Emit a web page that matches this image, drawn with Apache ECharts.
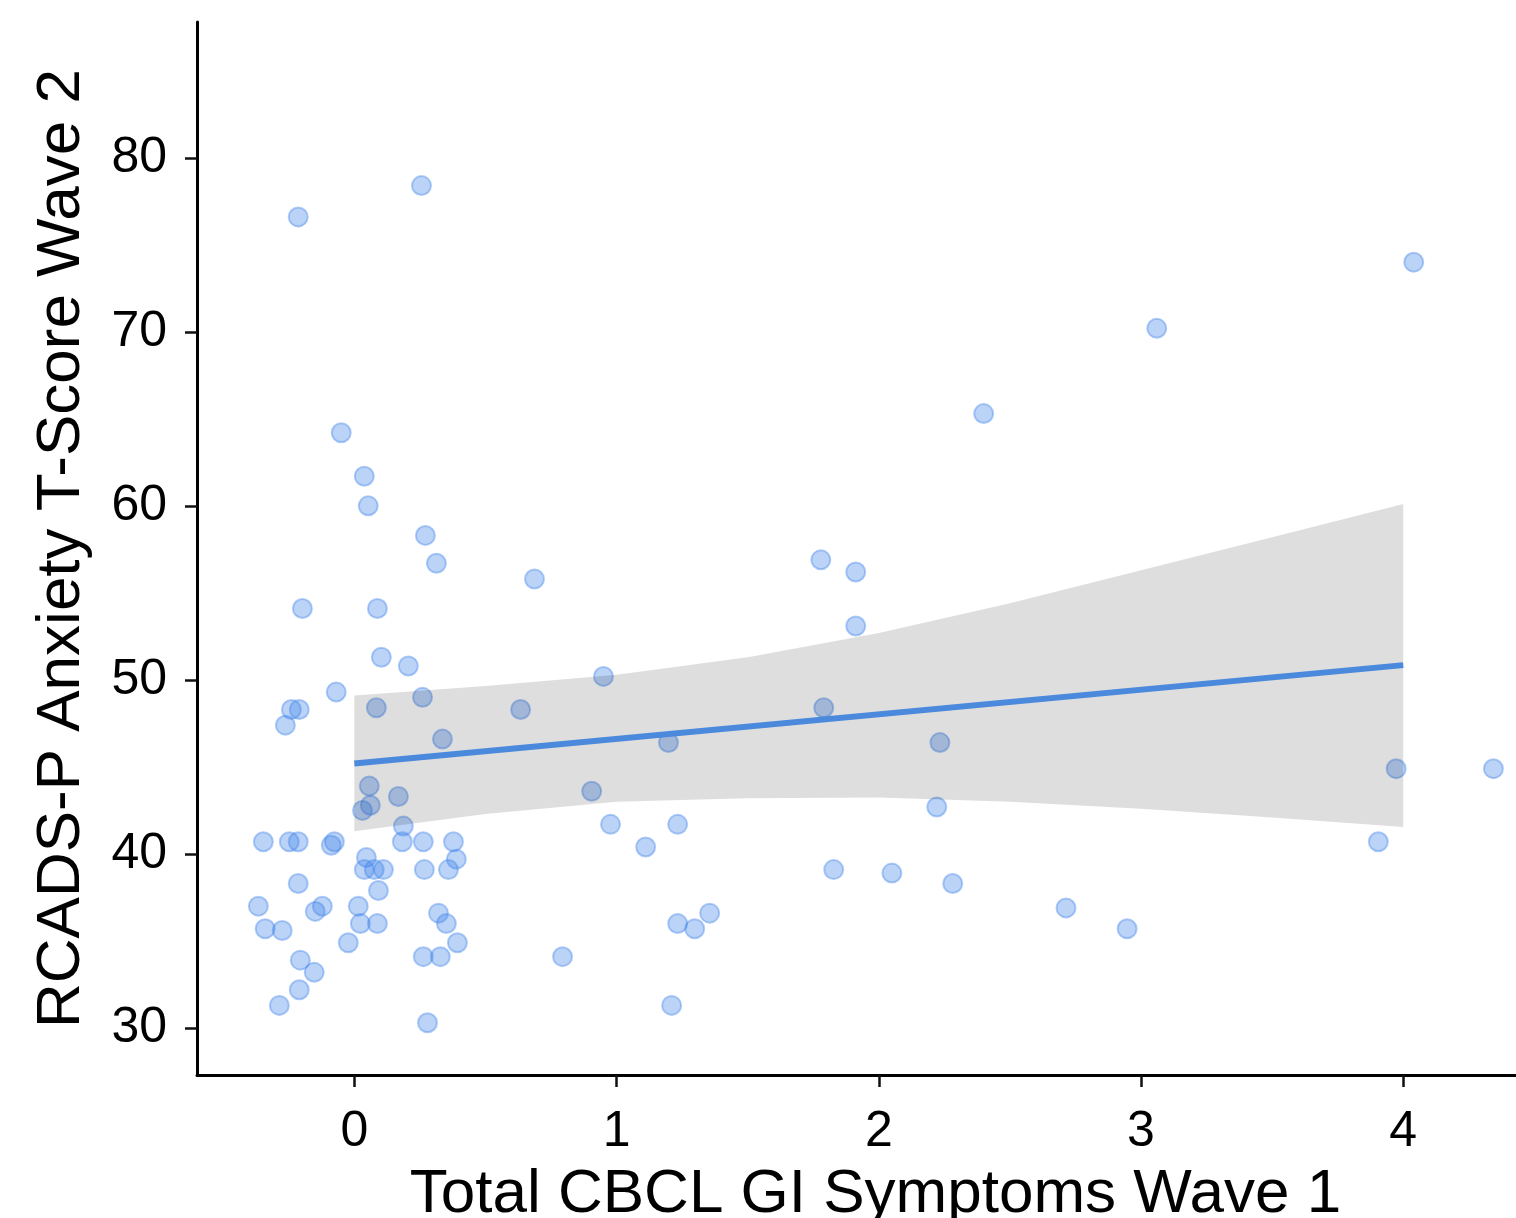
<!DOCTYPE html>
<html>
<head>
<meta charset="utf-8">
<script src="https://cdn.jsdelivr.net/npm/echarts@6/dist/echarts.min.js"></script>
<style>
  html, body { margin: 0; padding: 0; background: #fff; overflow: hidden; }
  #container { width: 1516px; height: 1218px; }
</style>
</head>
<body>
<div id="container"></div>
<script>
// scatter points: GI symptoms (x) vs anxiety T-score (y)
var giSymptoms = [
    0.256, -0.214, 4.04, 3.06, 2.40, -0.05, 0.038, 0.053, 0.271, 0.313,
    0.687, 1.779, 1.912, 1.912, -0.198, 0.088, 0.103, 0.206, 0.950, -0.069,
    0.260, -0.240, -0.210, 0.084, 0.634, 1.790, -0.263, 0.336, 1.198, 2.233,
    3.973, 4.344, 0.057, 0.168, 0.905, 0.061, 0.031, 2.221, 0.187, 0.977,
    1.233, -0.347, -0.248, -0.214, -0.076, -0.088, 0.183, 0.263, 0.378, 1.111,
    3.905, 0.046, 0.389, 0.038, 0.076, 0.111, 0.267, 0.359, 1.828, 2.050,
    -0.214, 0.092, 2.282, -0.366, -0.122, -0.149, 0.015, 0.321, 1.355, 2.714,
    -0.340, -0.275, 0.023, 0.088, 0.351, 1.233, 1.298, 2.947, -0.023, 0.393,
    -0.206, -0.153, 0.263, 0.328, 0.794, -0.210, -0.286, 1.210, 0.279
];
var anxiety = [
    78.4, 76.6, 74.0, 70.2, 65.3, 64.2, 61.7, 60.0, 58.3, 56.7,
    55.8, 56.9, 56.2, 53.1, 54.1, 54.1, 51.3, 50.8, 50.2, 49.3,
    49.0, 48.3, 48.3, 48.4, 48.3, 48.4, 47.4, 46.6, 46.4, 46.4,
    44.9, 44.9, 43.9, 43.3, 43.6, 42.8, 42.5, 42.7, 41.6, 41.7,
    41.7, 40.7, 40.7, 40.7, 40.7, 40.5, 40.7, 40.7, 40.7, 40.4,
    40.7, 39.8, 39.7, 39.1, 39.1, 39.1, 39.1, 39.1, 39.1, 38.9,
    38.3, 37.9, 38.3, 37.0, 37.0, 36.7, 37.0, 36.6, 36.6, 36.9,
    35.7, 35.6, 36.0, 36.0, 36.0, 36.0, 35.7, 35.7, 34.9, 34.9,
    33.9, 33.2, 34.1, 34.1, 34.1, 32.2, 31.3, 31.3, 30.3
];

// fitted line endpoints
var fitX = [0, 4];
var fitY = [45.2, 50.85];

// confidence band
var bandX = [0, 0.5, 1, 1.5, 2, 2.5, 3, 3.5, 4];
var bandUpper = [49.1, 49.65, 50.3, 51.3, 52.7, 54.4, 56.3, 58.2, 60.1];
var bandLower = [41.3, 42.3, 43.0, 43.2, 43.25, 43.0, 42.6, 42.1, 41.55];

// tick labels
var xTicks = [0, 1, 2, 3, 4];
var yTicks = [30, 40, 50, 60, 70, 80];

var points = giSymptoms.map(function (x, i) { return [x, anxiety[i]]; });
var fitLine = fitX.map(function (x, i) { return [x, fitY[i]]; });

var dom = document.getElementById('container');
var myChart = echarts.init(dom, null, { renderer: 'canvas' });

var font = '"Liberation Sans", Arial, Helvetica, sans-serif';

var option = {
    backgroundColor: '#ffffff',
    animation: false,
    grid: { left: 197, right: 0, top: 22, bottom: 143, containLabel: false, outerBoundsMode: 'none' },
    xAxis: {
        type: 'value',
        min: -0.6,
        max: 4.43,
        name: 'Total CBCL GI Symptoms Wave 1',
        nameLocation: 'middle',
        nameGap: 89,
        nameTextStyle: { fontFamily: font, fontSize: 62, color: '#000', padding: [0, 0, 0, 38] },
        axisLine: { onZero: false, lineStyle: { color: '#000', width: 3 } },
        axisTick: { customValues: xTicks, length: 12, lineStyle: { color: '#111', width: 2.5 } },
        axisLabel: { customValues: xTicks, margin: 32, fontFamily: font, fontSize: 50, color: '#000' },
        splitLine: { show: false }
    },
    yAxis: {
        type: 'value',
        min: 27.3,
        max: 87.8,
        name: 'RCADS-P Anxiety T-Score Wave 2',
        nameLocation: 'middle',
        nameGap: 104,
        nameTextStyle: { fontFamily: font, fontSize: 62, color: '#000' },
        axisLine: { show: true, onZero: false, lineStyle: { color: '#000', width: 3 } },
        axisTick: { show: true, customValues: yTicks, length: 12, lineStyle: { color: '#111', width: 2.5 } },
        axisLabel: { customValues: yTicks, margin: 30, fontFamily: font, fontSize: 50, color: '#000' },
        splitLine: { show: false }
    },
    series: [
        {
            type: 'scatter',
            z: 1,
            data: points,
            symbolSize: 19,
            itemStyle: {
                color: 'rgba(66,133,234,0.45)',
                borderColor: 'rgba(66,133,234,0.5)',
                borderWidth: 2
            }
        },
        {
            type: 'custom',
            z: 2,
            data: [[0, 45]],
            silent: true,
            renderItem: function (params, api) {
                var pts = [];
                for (var i = 0; i < bandX.length; i++) {
                    pts.push(api.coord([bandX[i], bandUpper[i]]));
                }
                for (var j = bandX.length - 1; j >= 0; j--) {
                    pts.push(api.coord([bandX[j], bandLower[j]]));
                }
                return {
                    type: 'polygon',
                    shape: { points: pts, smooth: 0 },
                    style: { fill: 'rgba(0,0,0,0.13)' }
                };
            }
        },
        {
            type: 'line',
            z: 3,
            data: fitLine,
            symbol: 'none',
            lineStyle: { color: '#4A89DC', width: 6 }
        }
    ]
};

myChart.setOption(option);
window.addEventListener('resize', myChart.resize);
</script>
</body>
</html>
